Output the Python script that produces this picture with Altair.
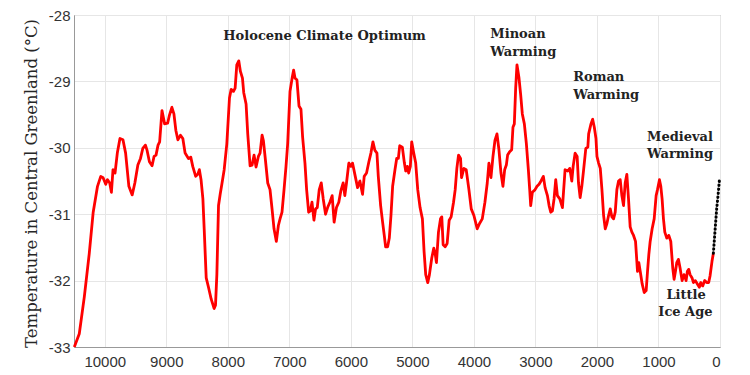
import altair as alt
import pandas as pd

# Red reconstructed temperature series (years before present, °C)
years = [10495, 10414, 10333, 10253, 10188, 10118, 10065, 10027, 9984, 9957, 9919, 9892, 9866, 9833,
         9796, 9753, 9704, 9661, 9608, 9554, 9511, 9462, 9419, 9382, 9339, 9312, 9274, 9231, 9199,
         9167, 9134, 9108, 9070, 9027, 8978, 8952, 8909, 8876, 8844, 8812, 8769, 8731, 8694, 8640,
         8602, 8570, 8522, 8489, 8462, 8435, 8405, 8384, 8351, 8314, 8270, 8222, 8200, 8178, 8151,
         8124, 8097, 8059, 8016, 7973, 7946, 7908, 7881, 7854, 7822, 7795, 7762, 7741, 7703, 7676,
         7638, 7605, 7573, 7541, 7503, 7476, 7443, 7422, 7389, 7351, 7314, 7281, 7249, 7211, 7178,
         7151, 7119, 7086, 7054, 7027, 6989, 6951, 6930, 6908, 6876, 6843, 6811, 6784, 6746, 6719,
         6686, 6659, 6632, 6600, 6573, 6546, 6514, 6481, 6449, 6411, 6378, 6341, 6304, 6272, 6234,
         6196, 6163, 6125, 6098, 6071, 6033, 6000, 5973, 5935, 5891, 5853, 5810, 5783, 5745, 5707,
         5674, 5641, 5609, 5576, 5554, 5516, 5484, 5457, 5435, 5402, 5375, 5348, 5321, 5283, 5255,
         5228, 5206, 5163, 5130, 5108, 5081, 5060, 5033, 5011, 4978, 4946, 4913, 4875, 4837, 4810,
         4783, 4750, 4723, 4685, 4652, 4630, 4609, 4576, 4543, 4522, 4500, 4467, 4435, 4402, 4370,
         4331, 4304, 4277, 4250, 4217, 4201, 4163, 4125, 4081, 4043, 4000, 3973, 3946, 3908, 3864,
         3821, 3783, 3756, 3723, 3690, 3658, 3625, 3593, 3560, 3528, 3500, 3473, 3452, 3419, 3386,
         3365, 3343, 3321, 3300, 3267, 3240, 3213, 3180, 3147, 3115, 3093, 3077, 3050, 3006, 2974,
         2941, 2909, 2871, 2843, 2805, 2778, 2751, 2724, 2697, 2670, 2643, 2604, 2561, 2518, 2474,
         2442, 2409, 2387, 2355, 2322, 2300, 2273, 2246, 2219, 2181, 2148, 2135, 2097, 2070, 2043,
         2016, 2000, 1973, 1946, 1919, 1892, 1865, 1838, 1811, 1784, 1757, 1730, 1703, 1676, 1649,
         1622, 1595, 1568, 1541, 1514, 1487, 1460, 1432, 1405, 1373, 1341, 1319, 1297, 1265, 1232,
         1200, 1178, 1157, 1135, 1103, 1070, 1038, 1016, 984, 962, 941, 919, 897, 865, 832,
         800, 768, 746, 724, 703, 676, 649, 616, 584, 551, 530, 508, 486, 454, 432,
         400, 368, 335, 314, 281, 249, 216, 184, 162, 130, 108]
temps = [-33.00, -32.80, -32.25, -31.60, -30.97, -30.58, -30.43, -30.45, -30.55, -30.48, -30.53, -30.67, -30.33, -30.38,
         -30.08, -29.86, -29.88, -30.08, -30.58, -30.71, -30.53, -30.26, -30.16, -30.01, -29.96, -30.04, -30.21, -30.27, -30.13,
         -30.11, -29.96, -29.91, -29.44, -29.64, -29.63, -29.52, -29.39, -29.49, -29.74, -29.88, -29.81, -29.86, -30.08, -30.16,
         -30.14, -30.28, -30.43, -30.40, -30.33, -30.48, -30.77, -31.22, -31.96, -32.10, -32.28, -32.42, -32.37, -31.91, -30.87,
         -30.70, -30.55, -30.33, -29.94, -29.25, -29.12, -29.15, -29.10, -28.75, -28.69, -28.85, -28.95, -29.17, -29.34, -29.79,
         -30.27, -30.26, -30.11, -30.29, -30.13, -30.08, -29.81, -29.89, -30.18, -30.53, -30.63, -30.92, -31.22, -31.41, -31.17,
         -31.07, -30.97, -30.63, -30.28, -29.94, -29.15, -28.93, -28.83, -28.95, -28.98, -29.37, -29.42, -29.84, -30.23, -30.63,
         -30.97, -30.95, -30.82, -31.09, -30.92, -30.90, -30.63, -30.53, -30.77, -31.00, -30.90, -30.82, -30.72, -31.12, -30.90,
         -30.82, -30.65, -30.53, -30.72, -30.53, -30.23, -30.28, -30.23, -30.40, -30.60, -30.50, -30.70, -30.43, -30.38, -30.21,
         -30.08, -29.91, -30.04, -30.08, -30.43, -30.87, -31.12, -31.32, -31.49, -31.49, -31.36, -31.02, -30.58, -30.33, -30.16,
         -30.16, -29.97, -29.99, -30.23, -30.35, -30.28, -30.38, -30.28, -29.91, -30.08, -30.23, -30.63, -30.90, -31.07, -31.56,
         -31.91, -32.03, -31.91, -31.66, -31.51, -31.59, -31.73, -31.27, -31.07, -31.04, -31.46, -31.49, -31.44, -31.09, -31.04,
         -30.82, -30.63, -30.31, -30.11, -30.16, -30.45, -30.31, -30.33, -30.63, -30.92, -31.02, -31.12, -31.22, -31.14, -31.07,
         -30.82, -30.53, -30.23, -30.45, -30.13, -29.89, -29.79, -30.03, -30.38, -30.58, -30.33, -30.26, -30.11, -30.06, -30.03,
         -29.69, -29.64, -29.10, -28.75, -28.95, -29.20, -29.49, -29.64, -29.94, -30.33, -30.63, -30.87, -30.67, -30.63, -30.58,
         -30.55, -30.50, -30.43, -30.60, -30.72, -30.87, -30.97, -30.95, -30.77, -30.48, -30.72, -30.77, -30.90, -30.33, -30.35,
         -30.31, -30.50, -30.28, -30.08, -30.13, -30.53, -30.75, -30.58, -30.35, -30.01, -29.99, -29.79, -29.64, -29.57, -29.69,
         -29.86, -30.13, -30.23, -30.31, -30.63, -31.02, -31.22, -31.14, -31.02, -30.92, -31.04, -31.07, -30.97, -30.63, -30.50,
         -30.48, -30.72, -30.87, -30.53, -30.40, -30.77, -31.19, -31.27, -31.32, -31.41, -31.86, -31.73, -31.86, -32.05, -32.18,
         -32.15, -31.86, -31.61, -31.41, -31.22, -31.07, -30.72, -30.63, -30.48, -30.58, -30.77, -31.07, -31.27, -31.36, -31.32,
         -31.41, -31.81, -31.98, -31.86, -31.73, -31.68, -31.81, -32.00, -31.91, -32.00, -31.86, -31.83, -31.91, -31.96, -32.03,
         -32.00, -32.05, -32.10, -32.03, -32.08, -32.00, -32.03, -32.03, -31.93, -31.71, -31.59]

# Black dotted recent segment
dot_years = [108, 76, 54, 32, 11]
dot_temps = [-31.59, -31.19, -30.92, -30.72, -30.50]

# Annotations (data coordinates)
center_text = ["Holocene Climate Optimum", "Little", "Ice Age"]
center_year = [6427, 552, 562]
center_temp = [-28.31, -32.22, -32.47]

left_text = ["Minoan", "Warming", "Roman", "Warming", "Medieval", "Warming"]
left_year = [3733, 3733, 2386, 2386, 1185, 1185]
left_temp = [-28.28, -28.55, -28.93, -29.21, -29.83, -30.09]

x_ticks = [0, 1000, 2000, 3000, 4000, 5000, 6000, 7000, 8000, 9000, 10000]
y_ticks = [-33, -32, -31, -30, -29, -28]

df = pd.DataFrame({"year": years, "temp": temps})
df_dot = pd.DataFrame({"year": dot_years, "temp": dot_temps})
df_c = pd.DataFrame({"year": center_year, "temp": center_temp, "text": center_text})
df_l = pd.DataFrame({"year": left_year, "temp": left_temp, "text": left_text})

xs = alt.Scale(domain=[0, 10500], reverse=True, nice=False, zero=False)
ys = alt.Scale(domain=[-33, -28], nice=False, zero=False)

x_axis = alt.Axis(values=x_ticks, format="d", title=None, grid=True, gridColor="#e6e6e6",
                  ticks=False, domainColor="#999999", labelFont="Liberation Sans",
                  labelFontSize=15, labelColor="#333333", labelPadding=7)
y_axis = alt.Axis(values=y_ticks, labelExpr="'' + datum.value",
                  title="Temperature in Central Greenland (°C)", titleFont="DejaVu Serif",
                  titleFontSize=16.5, titleFontWeight="normal", titleColor="#262626",
                  titleAngle=-90, titleAlign="center", titleBaseline="middle",
                  titleX=-43, titleY=168, grid=True, gridColor="#e6e6e6", ticks=False,
                  domainColor="#999999", labelFont="Liberation Sans", labelFontSize=15,
                  labelColor="#333333", labelPadding=4)

line = alt.Chart(df).mark_line(color="#ff0000", strokeWidth=2.8, strokeJoin="round").encode(
    x=alt.X("year:Q", scale=xs, axis=x_axis),
    y=alt.Y("temp:Q", scale=ys, axis=y_axis),
    order="year:Q",
)
dots = alt.Chart(df_dot).mark_line(color="#000000", strokeWidth=3, strokeDash=[0.5, 3.5],
                                   strokeCap="round").encode(
    x=alt.X("year:Q", scale=xs), y=alt.Y("temp:Q", scale=ys), order="year:Q")

txt_style = dict(font="DejaVu Serif", fontWeight="bold", fontSize=13, color="#222222",
                 baseline="middle")
t_center = alt.Chart(df_c).mark_text(align="center", **txt_style).encode(
    x=alt.X("year:Q", scale=xs), y=alt.Y("temp:Q", scale=ys), text="text:N")
t_left = alt.Chart(df_l).mark_text(align="left", **txt_style).encode(
    x=alt.X("year:Q", scale=xs), y=alt.Y("temp:Q", scale=ys), text="text:N")

chart = alt.layer(line, dots, t_center, t_left).properties(
    width=646, height=332,
    autosize=alt.AutoSizeParams(type="none"),
    padding={"left": 66, "top": 7, "right": 22, "bottom": 28},
).configure_view(stroke="#999999", strokeWidth=1)

chart.save("out.html", embed_options={"renderer": "svg", "actions": False})
